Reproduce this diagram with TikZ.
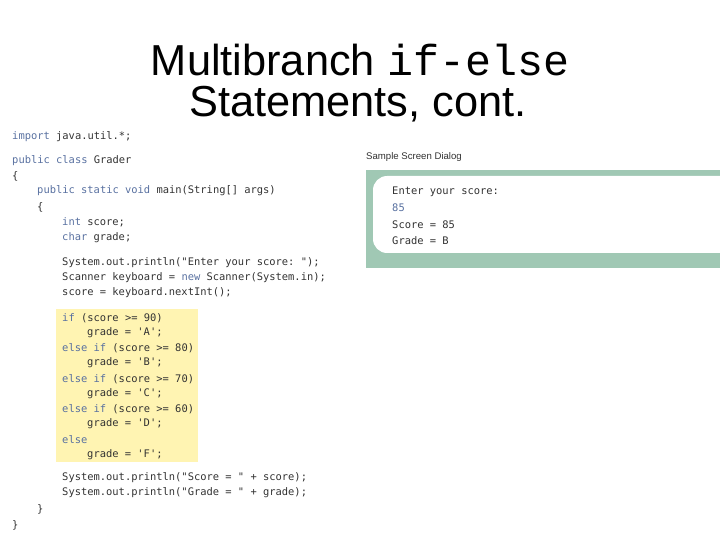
\documentclass[tikz,border=0pt]{standalone}
\usepackage{fontspec}
\setmainfont{Liberation Sans}
\setmonofont{DejaVu Sans Mono}
\newfontfamily\courierfont{Liberation Mono}
\definecolor{kw}{RGB}{88,112,160}
\definecolor{code}{RGB}{50,50,50}
\definecolor{hilite}{RGB}{255,244,178}
\definecolor{dlgband}{RGB}{160,200,180}
\begin{document}
\begin{tikzpicture}[x=0.03cm, y=-0.03cm,
  codeline/.style={anchor=west, inner sep=0pt, text=code,
                   font=\ttfamily\fontsize{8.9}{10}\selectfont},
  titleline/.style={font=\fontsize{37}{40}\selectfont}]
  \useasboundingbox (0,0) rectangle (720,540);

  % Titel
  \node[titleline] (t1) at (360,60) {Multibranch {\courierfont if-else}};
  \node[titleline] (t2) at (358,104) {Statements, cont.};

  % Hervorhebung
  \fill[hilite] (56,309) rectangle (198,462);

  % Quelltext
  \node[codeline] (c1) at (12,137) {\textcolor{kw}{import} java.util.*;};
  \node[codeline] (c2) at (12,161) {\textcolor{kw}{public class} Grader};
  \node[codeline] (c3) at (12,176) {\{};
  \node[codeline] (c4) at (37,191) {\textcolor{kw}{public static void} main(String[] args)};
  \node[codeline] (c5) at (37,207) {\{};
  \node[codeline] (c6) at (62,222) {\textcolor{kw}{int} score;};
  \node[codeline] (c7) at (62,238) {\textcolor{kw}{char} grade;};
  \node[codeline] (c8) at (62,263) {System.out.println("Enter your score: ");};
  \node[codeline] (c9) at (62,278) {Scanner keyboard = \textcolor{kw}{new} Scanner(System.in);};
  \node[codeline] (c10) at (62,293) {score = keyboard.nextInt();};
  \node[codeline] (c11) at (62,318) {\textcolor{kw}{if} (score >= 90)};
  \node[codeline] (c12) at (87,333) {grade = 'A';};
  \node[codeline] (c13) at (62,348) {\textcolor{kw}{else if} (score >= 80)};
  \node[codeline] (c14) at (87,363) {grade = 'B';};
  \node[codeline] (c15) at (62,379) {\textcolor{kw}{else if} (score >= 70)};
  \node[codeline] (c16) at (87,394) {grade = 'C';};
  \node[codeline] (c17) at (62,409) {\textcolor{kw}{else if} (score >= 60)};
  \node[codeline] (c18) at (87,424) {grade = 'D';};
  \node[codeline] (c19) at (62,440) {\textcolor{kw}{else}};
  \node[codeline] (c20) at (87,455) {grade = 'F';};
  \node[codeline] (c21) at (62,478) {System.out.println("Score = " + score);};
  \node[codeline] (c22) at (62,493) {System.out.println("Grade = " + grade);};
  \node[codeline] (c23) at (37,509) {\}};
  \node[codeline] (c24) at (12,525) {\}};

  % Dialog
  \node[anchor=west, inner sep=0pt, font=\fontsize{8.2}{10}\selectfont, text=code]
    (dlg) at (366,157) {Sample Screen Dialog};
  \fill[dlgband] (366,170) rectangle (720,268);
  \fill[white, rounded corners=12pt] (373,176) rectangle (760,253);
  \node[codeline] (d1) at (392,192) {Enter your score:};
  \node[codeline, text=kw] (d2) at (392,208) {85};
  \node[codeline] (d3) at (392,225) {Score = 85};
  \node[codeline] (d4) at (392,241) {Grade = B};
\end{tikzpicture}
\end{document}
